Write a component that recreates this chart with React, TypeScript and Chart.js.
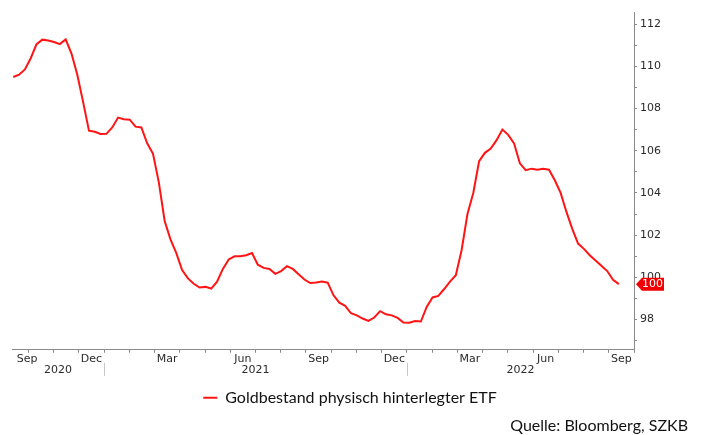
import React, { useEffect, useRef } from 'react';
import { Chart, registerables } from 'chart.js';

Chart.register(...registerables);

// x positions are months since 1 Jan 2020 (Jan 2021 = 12); data is weekly from mid-Sep 2020
const FIRST_WEEK_MONTH = 8.4;
const WEEK_IN_MONTHS = 12 / 52;
const X_MIN = 8.35;
const X_MAX = 33;
const Y_MIN = 96.57;
const Y_MAX = 112.57;

const etfValues = [
  109.49, 109.6, 109.85, 110.38, 111.05, 111.26, 111.22, 111.15, 111.05, 111.27,
  110.6, 109.6, 108.3, 106.95, 106.9, 106.79, 106.8, 107.1, 107.57, 107.49,
  107.47, 107.14, 107.1, 106.35, 105.85, 104.5, 102.67, 101.8, 101.15, 100.35,
  99.95, 99.7, 99.52, 99.55, 99.47, 99.8, 100.4, 100.85, 101.0, 101.0,
  101.05, 101.15, 100.6, 100.45, 100.4, 100.17, 100.3, 100.53, 100.4, 100.15,
  99.9, 99.73, 99.76, 99.8, 99.75, 99.15, 98.8, 98.65, 98.3, 98.2,
  98.05, 97.94, 98.1, 98.4, 98.25, 98.2, 98.08, 97.86, 97.85, 97.93,
  97.91, 98.6, 99.05, 99.12, 99.45, 99.8, 100.1, 101.3, 103.0, 104.0,
  105.5, 105.9, 106.1, 106.5, 107.0, 106.75, 106.35, 105.4, 105.08, 105.15,
  105.1, 105.14, 105.1, 104.6, 104.0, 103.1, 102.3, 101.6, 101.35, 101.05,
  100.8, 100.55, 100.3, 99.88, 99.68,
];

const monthNames = ['Jan', 'Feb', 'Mar', 'Apr', 'May', 'Jun', 'Jul', 'Aug', 'Sep', 'Oct', 'Nov', 'Dec'];
const labeledMonths = ['Sep', 'Dec', 'Mar', 'Jun'];
const years = [2020, 2021, 2022];
const BASE_YEAR = 2020;
const yLabelValues = [98, 100, 102, 104, 106, 108, 110, 112];

const seriesLabel = 'Goldbestand physisch hinterlegter ETF';
const sourceText = 'Quelle: Bloomberg, SZKB';

const RED = '#ff1414';
const AXIS_GRAY = '#8a8a8a';
const TEXT_DARK = '#2a2a2a';
const TICK_FONT = { family: 'DejaVu Sans', size: 11 };

const yearPlugin = {
  id: 'yearRow',
  afterDraw(chart: any) {
    const xs = chart.scales.x;
    const ctx = chart.ctx;
    ctx.save();
    ctx.font = '11px "DejaVu Sans"';
    ctx.fillStyle = TEXT_DARK;
    ctx.textAlign = 'center';
    ctx.textBaseline = 'middle';
    const rowY = xs.top + 20;
    years.forEach((yr) => {
      const a = Math.max(X_MIN, (yr - BASE_YEAR) * 12);
      const b = Math.min(X_MAX, (yr - BASE_YEAR + 1) * 12);
      const cx = xs.getPixelForValue((a + b) / 2);
      ctx.fillText(String(yr), cx, rowY);
      const start = (yr - BASE_YEAR) * 12;
      if (start > X_MIN && start < X_MAX) {
        const px = Math.round(xs.getPixelForValue(start)) + 0.5;
        ctx.strokeStyle = '#c8c8c8';
        ctx.lineWidth = 1;
        ctx.beginPath();
        ctx.moveTo(px, xs.top + 13);
        ctx.lineTo(px, xs.top + 26);
        ctx.stroke();
      }
    });
    ctx.restore();
  },
};

const badgePlugin = {
  id: 'lastBadge',
  afterDraw(chart: any) {
    const ys = chart.scales.y;
    const ctx = chart.ctx;
    const last = etfValues[etfValues.length - 1];
    const py = ys.getPixelForValue(last);
    const x0 = chart.chartArea.right + 2;
    const h = 13;
    ctx.save();
    ctx.fillStyle = '#f00000';
    ctx.beginPath();
    ctx.moveTo(x0, py);
    ctx.lineTo(x0 + 6, py - h / 2);
    ctx.lineTo(x0 + 28, py - h / 2);
    ctx.lineTo(x0 + 28, py + h / 2);
    ctx.lineTo(x0 + 6, py + h / 2);
    ctx.closePath();
    ctx.fill();
    ctx.fillStyle = '#ffffff';
    ctx.font = '11px "DejaVu Sans"';
    ctx.textAlign = 'left';
    ctx.textBaseline = 'middle';
    ctx.fillText(String(Math.round(last)), x0 + 6, py + 0.5);
    ctx.restore();
  },
};

export default function App() {
  const canvasRef = useRef<HTMLCanvasElement | null>(null);

  useEffect(() => {
    if (!canvasRef.current) return;
    const points = etfValues.map((v, i) => ({ x: FIRST_WEEK_MONTH + i * WEEK_IN_MONTHS, y: v }));

    const chart = new Chart(canvasRef.current, {
      type: 'line',
      data: {
        datasets: [
          {
            label: seriesLabel,
            data: points,
            borderColor: RED,
            backgroundColor: RED,
            borderWidth: 2,
            pointRadius: 0,
            tension: 0,
            fill: false,
          },
        ],
      },
      options: {
        animation: false,
        responsive: true,
        maintainAspectRatio: false,
        layout: { padding: { top: 12, left: 12, right: 13, bottom: 0 } },
        scales: {
          x: {
            type: 'linear',
            min: X_MIN,
            max: X_MAX,
            bounds: 'data',
            border: { display: true, color: AXIS_GRAY, width: 1 },
            grid: {
              display: true,
              drawOnChartArea: false,
              drawTicks: true,
              tickLength: 3,
              tickColor: (c: any) => (c.tick && Number.isInteger(c.tick.value) ? AXIS_GRAY : 'rgba(0,0,0,0)'),
            },
            afterBuildTicks: (scale: any) => {
              const ticks: any[] = [];
              for (let m = Math.ceil(X_MIN); m <= X_MAX; m++) ticks.push({ value: m });
              for (let m = Math.floor(X_MIN); m < X_MAX; m++) {
                const name = monthNames[((m % 12) + 12) % 12];
                if (labeledMonths.includes(name)) {
                  let v = m + 0.5;
                  if (v - X_MIN < 0.6) v = X_MIN + 0.6;
                  ticks.push({ value: v });
                }
              }
              ticks.sort((a, b) => a.value - b.value);
              scale.ticks = ticks;
            },
            afterFit: (scale: any) => {
              scale.height = 30;
            },
            ticks: {
              autoSkip: false,
              maxRotation: 0,
              minRotation: 0,
              padding: 0,
              color: TEXT_DARK,
              font: TICK_FONT,
              callback: (value: any) => {
                const v = Number(value);
                if (Number.isInteger(v)) return '';
                return monthNames[((Math.floor(v) % 12) + 12) % 12];
              },
            },
          },
          y: {
            type: 'linear',
            position: 'right',
            min: Y_MIN,
            max: Y_MAX,
            border: { display: true, color: AXIS_GRAY, width: 1 },
            grid: {
              display: true,
              drawOnChartArea: false,
              drawTicks: true,
              tickLength: 3,
              tickColor: AXIS_GRAY,
            },
            afterBuildTicks: (scale: any) => {
              const ticks: any[] = [];
              for (let v = Math.ceil(Y_MIN); v <= Y_MAX; v++) ticks.push({ value: v });
              scale.ticks = ticks;
            },
            afterFit: (scale: any) => {
              scale.width = 54;
            },
            ticks: {
              autoSkip: false,
              padding: 3,
              color: TEXT_DARK,
              font: TICK_FONT,
              callback: (value: any) => {
                const v = Math.round(Number(value));
                return yLabelValues.includes(v) ? String(v) : '';
              },
            },
          },
        },
        plugins: {
          legend: {
            display: true,
            position: 'bottom',
            labels: {
              boxWidth: 14,
              boxHeight: 2,
              padding: 10,
              color: '#111111',
              font: { family: 'Lato', size: 16 },
              generateLabels: (ch: any) =>
                (Chart.defaults.plugins.legend.labels.generateLabels as any)(ch).map((l: any) => ({
                  ...l,
                  lineWidth: 0,
                  fillStyle: RED,
                })),
            },
          },
          subtitle: {
            display: true,
            position: 'bottom',
            align: 'end',
            text: sourceText,
            color: '#111111',
            font: { family: 'Lato', size: 16, weight: 'normal' },
            padding: { top: 0, bottom: 0 },
          },
          title: { display: false },
          tooltip: { enabled: false },
        },
      },
      plugins: [yearPlugin, badgePlugin],
    });
    return () => chart.destroy();
  }, []);

  return (
    <div style={{ position: 'absolute', left: 0, top: 0, width: 701, height: 435, background: '#ffffff' }}>
      <canvas ref={canvasRef} />
    </div>
  );
}
